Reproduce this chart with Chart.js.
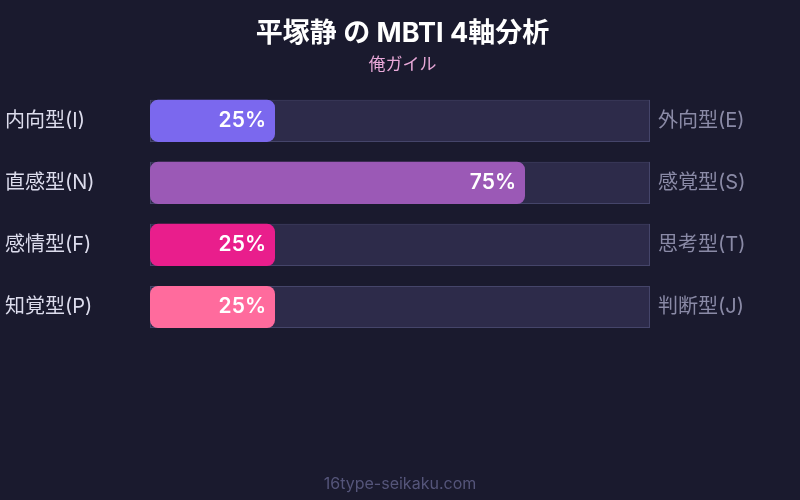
<!DOCTYPE html>
<html>
<head>
<meta charset="utf-8">
<script src="https://cdn.jsdelivr.net/npm/chart.js@4.4.1/dist/chart.umd.min.js"></script>
<style>
html,body{margin:0;padding:0;background:#1a1a2e;}
#wrap{width:800px;height:500px;position:relative;}
</style>
</head>
<body>
<div id="wrap"><canvas id="c" width="800" height="500"></canvas></div>
<script>
const leftLabels = ["内向型(I)", "直感型(N)", "感情型(F)", "知覚型(P)"];
const rightLabels = ["外向型(E)", "感覚型(S)", "思考型(T)", "判断型(J)"];
const values = [25, 75, 25, 25];
const trackValues = [100, 100, 100, 100];
const barColors = ["#7b68ee", "#9b59b6", "#e91e8c", "#ff6b9d"];
const titleText = "平塚静 の MBTI 4軸分析";
const subtitleText = "俺ガイル";
const footerText = "16type-seikaku.com";

const FONT = "Inter, 'Noto Sans CJK JP', sans-serif";

const valueLabelPlugin = {
  id: 'valueLabels',
  afterDatasetsDraw(chart) {
    const ctx = chart.ctx;
    const meta = chart.getDatasetMeta(0);
    ctx.save();
    ctx.font = "600 21px " + FONT;
    ctx.fillStyle = "#ffffff";
    ctx.textAlign = "right";
    ctx.textBaseline = "middle";
    meta.data.forEach((bar, i) => {
      ctx.fillText(values[i] + "%", bar.x - 9, bar.y);
    });
    ctx.restore();
  }
};

const footerPlugin = {
  id: 'footer',
  afterDraw(chart) {
    const ctx = chart.ctx;
    ctx.save();
    ctx.font = "16px " + FONT;
    ctx.fillStyle = "#55557a";
    ctx.textAlign = "center";
    ctx.textBaseline = "middle";
    ctx.fillText(footerText, chart.width / 2, 484);
    ctx.restore();
  }
};

new Chart(document.getElementById('c'), {
  type: 'bar',
  data: {
    labels: leftLabels,
    datasets: [
      {
        data: values,
        backgroundColor: barColors,
        borderRadius: 8,
        borderSkipped: false,
        borderWidth: 0,
        categoryPercentage: 0.68,
        barPercentage: 1.0,
        grouped: false
      },
      {
        data: trackValues,
        backgroundColor: "#2d2b4a",
        borderColor: "#45456a",
        borderWidth: 1,
        borderSkipped: false,
        categoryPercentage: 0.68,
        barPercentage: 1.0,
        grouped: false
      }
    ]
  },
  options: {
    indexAxis: 'y',
    responsive: false,
    animation: false,
    devicePixelRatio: 1,
    layout: { padding: { top: 0, left: 5, right: 0, bottom: 162 } },
    plugins: {
      legend: { display: false },
      tooltip: { enabled: false },
      title: {
        display: true,
        text: titleText,
        color: "#ffffff",
        font: { family: FONT, size: 27, weight: 'bold', lineHeight: 1.2 },
        padding: { top: 18, bottom: 0 }
      },
      subtitle: {
        display: true,
        text: subtitleText,
        color: "#e8a8d8",
        font: { family: FONT, size: 17, lineHeight: 1.2 },
        padding: { top: 4, bottom: 15 }
      }
    },
    scales: {
      x: {
        display: false,
        min: 0,
        max: 100
      },
      y: {
        position: 'left',
        grid: { display: false, drawTicks: false },
        border: { display: false },
        ticks: { color: "#dcdcec", font: { family: FONT, size: 20 }, crossAlign: 'far', padding: 0 },
        afterFit(s) { s.width = 145; }
      },
      y2: {
        type: 'category',
        position: 'right',
        labels: rightLabels,
        offset: true,
        grid: { display: false, drawTicks: false },
        border: { display: false },
        ticks: { color: "#8a8aa6", font: { family: FONT, size: 20 }, padding: 8 },
        afterFit(s) { s.width = 150; }
      }
    }
  },
  plugins: [valueLabelPlugin, footerPlugin]
});
</script>
</body>
</html>
